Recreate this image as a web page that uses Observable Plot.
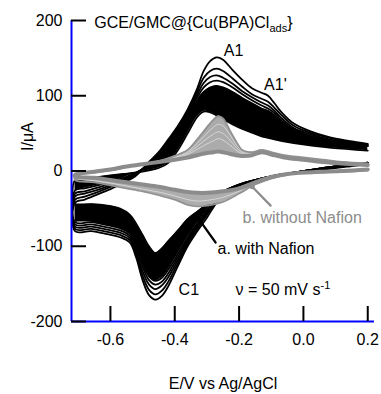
<!DOCTYPE html>
<html>
<head>
<meta charset="utf-8">
<script src="https://cdn.jsdelivr.net/npm/d3@7"></script>
<script src="https://cdn.jsdelivr.net/npm/@observablehq/plot@0.6"></script>
<style>
  html, body { margin: 0; padding: 0; background: #fff; }
  #chart { width: 381px; height: 394px; }
</style>
</head>
<body>
<div id="chart"></div>
<script>
// ---- axes / ticks ----
const xDomain = [-0.721, 0.221];
const yDomain = [-200, 200];
const xTicks = [-0.6, -0.4, -0.2, 0.0, 0.2];
const yTicks = [-200, -100, 0, 100, 200];

// ---- black (a. with Nafion): anodic sweep, E grid (V) ----
const EA = [-0.71,-0.68,-0.64,-0.60,-0.56,-0.52,-0.48,-0.45,-0.42,-0.39,-0.36,-0.33,-0.31,-0.29,-0.27,-0.25,-0.22,-0.19,-0.16,-0.13,-0.11,-0.09,-0.07,-0.03,0.02,0.08,0.14,0.20];
const blackA1 = [-42,-38,-31,-24,-16,-6,12,25,42,60,82,110,133,146,151,148,134,121,110,104,100,90,79,63,53,45,40,36];
const blackA2 = [-38,-34,-28,-21,-14,-5,11,23,40,58,80,106,124,133,136,133,123,112,102,96,92,84,75,60,51,44,39,35];
const blackA3 = [-34,-30,-25,-19,-12,-4,10,22,38,56,78,102,117,125,127,124,116,106,98,91,87,80,71,57,49,42,38,34];
const blackA4 = [-30,-27,-22,-17,-11,-3,9,21,37,55,76,98,111,118,120,118,111,102,94,87,83,77,68,55,47,41,37,33];
const blackA5 = [-26,-23,-19,-15,-9,-2,8,20,35,53,74,94,105,111,113,111,105,97,90,83,80,74,66,54,46,40,36,33];
const blackAIn = [-12,-10,-8,-6,-4,-2,1,4,11,28,50,72,79,78,74,69,62,56,51,46,44,42,40,37,34,31,29,27];

// ---- black: cathodic sweep ----
const EC = [0.20,0.14,0.08,0.02,-0.04,-0.10,-0.15,-0.20,-0.24,-0.27,-0.30,-0.33,-0.36,-0.39,-0.42,-0.44,-0.46,-0.48,-0.50,-0.52,-0.54,-0.57,-0.61,-0.66,-0.71];
const blackC1 = [11,8,5,1,-3,-7,-12,-19,-28,-42,-62,-80,-100,-126,-153,-166,-171,-165,-145,-115,-95,-88,-84,-80,-80];
const blackC2 = [11,8,5,1,-3,-7,-12,-19,-27,-40,-58,-77,-97,-122,-147,-159,-164,-158,-139,-111,-92,-85,-81,-77,-77];
const blackC3 = [11,8,5,1,-3,-7,-12,-19,-27,-39,-56,-74,-94,-118,-141,-152,-157,-151,-133,-107,-89,-82,-78,-74,-74];
const blackC4 = [10,7,4,1,-3,-7,-12,-18,-26,-38,-54,-72,-91,-114,-136,-147,-151,-145,-127,-103,-86,-79,-75,-71,-71];
const blackC5 = [10,7,4,1,-3,-7,-12,-18,-26,-37,-52,-70,-88,-110,-131,-142,-146,-140,-122,-99,-83,-76,-72,-68,-68];
const blackCIn = [9,6,3,0,-3,-7,-12,-18,-25,-33,-44,-54,-64,-79,-93,-103,-109,-100,-85,-70,-58,-50,-46,-44,-44];

// ---- gray (b. without Nafion): anodic ----
const GA = [-0.71,-0.65,-0.60,-0.55,-0.50,-0.45,-0.40,-0.36,-0.33,-0.30,-0.28,-0.265,-0.25,-0.23,-0.21,-0.19,-0.16,-0.13,-0.10,-0.06,0.00,0.06,0.12,0.20];
const grayA1 = [-6,-2,1,5,9,13,20,28,42,58,68,73,70,55,40,28,25,28,25,21,18,15,12,10];
const grayA2 = [-6,-2,1,5,9,13,19,26,37,50,58,62,60,49,36,27,24,27,24,20,17,14,12,10];
const grayA3 = [-6,-2,1,5,9,13,18,24,33,43,49,52,50,42,32,25,23,26,23,19,16,13,11,9];
const grayA4 = [-6,-2,1,5,9,13,17,22,29,36,40,43,41,35,28,23,22,25,22,18,15,12,10,9];
const grayABold = [-5,-1,2,6,9,12,15,18,21,24,25,26,25,23,21,20,21,25,22,18,15,12,10,8];

// ---- gray: cathodic ----
const GC = [0.20,0.12,0.05,0.00,-0.05,-0.10,-0.15,-0.20,-0.25,-0.30,-0.33,-0.36,-0.40,-0.45,-0.50,-0.55,-0.60,-0.65,-0.71];
const grayCOut = [1,-1,-2,-3,-5,-10,-18,-30,-41,-46,-47,-45,-38,-32,-27,-23,-19,-15,-12];
const grayCMid = [1,-1,-2,-3,-5,-9,-17,-27,-35,-39,-40,-38,-33,-28,-24,-20,-16,-13,-10];
const grayCBold = [2,0,-1,-2,-4,-8,-15,-23,-27,-29,-29,-28,-25,-21,-18,-15,-12,-9,-7];

// ---- annotations ----
const labelText = ["GCE/GMC@{Cu(BPA)Cl_{ads}}", "A1", "A1'", "C1", "ν = 50 mV s^{-1}", "a. with Nafion", "b. without Nafion"];
const labelE = [-0.650, -0.217, -0.087, -0.388, -0.211, -0.267, -0.189];
const labelI = [197, 160, 115, -157.5, -157.5, -104, -62];
const labelAnchor = ["start", "middle", "middle", "start", "start", "start", "start"];
const labelColor = ["#000", "#000", "#000", "#000", "#000", "#000", "#8c8c8c"];
const pointerAE = [-0.330, -0.273], pointerAI = [-61, -95];
const pointerBE = [-0.159, -0.102], pointerBI = [-21, -46];

// ---- build tables ----
const branch = (E, I, cycle) => E.map((e, i) => ({E: e, I: I[i], cycle}));
const loop = (cArr, aArr, cyc, Ec, Ea) => [...branch(Ec, cArr, cyc), ...branch(Ea, aArr, cyc)];
const blackLines = [
  ...loop(blackCIn, blackAIn, "in", EC, EA),
  ...loop(blackC5, blackA5, "c5", EC, EA),
  ...loop(blackC4, blackA4, "c4", EC, EA),
  ...loop(blackC3, blackA3, "c3", EC, EA),
  ...loop(blackC2, blackA2, "c2", EC, EA),
  ...loop(blackC1, blackA1, "c1", EC, EA)
];
const bandA = EA.map((e, i) => ({E: e, lo: blackAIn[i], hi: blackA5[i]}));
const bandC = EC.map((e, i) => ({E: e, lo: blackC5[i], hi: blackCIn[i]}));
const grayBandA = GA.map((e, i) => ({E: e, lo: grayABold[i], hi: grayA1[i]}));
const grayBandC = GC.map((e, i) => ({E: e, lo: grayCOut[i], hi: grayCBold[i]}));
const grayHair = [
  ...branch(GA, grayA2, "g2"), ...branch(GA, grayA3, "g3"), ...branch(GA, grayA4, "g4"),
  ...branch(GC, grayCMid, "cm")
];
const grayOuter = loop(grayCOut, grayA1, "g1", GC, GA);
const grayBold = loop(grayCBold, grayABold, "bold", GC, GA);
const pointers = [
  ...pointerAE.map((e, i) => ({E: e, I: pointerAI[i], p: "a"})),
  ...pointerBE.map((e, i) => ({E: e, I: pointerBI[i], p: "b"}))
];
const pointerStarts = [{E: pointerAE[0], I: pointerAI[0], p: "a"}, {E: pointerBE[0], I: pointerBI[0], p: "b"}];
const labels = labelText.map((t, i) => ({t, E: labelE[i], I: labelI[i], a: labelAnchor[i], c: labelColor[i]}));
const labelsStart = labels.filter(d => d.a === "start");
const labelsMiddle = labels.filter(d => d.a === "middle");

const curve = "catmull-rom";
const font = "'Liberation Sans', Arial, Helvetica, sans-serif";

const svg = Plot.plot({
  width: 381,
  height: 394,
  marginLeft: 71,
  marginRight: 7,
  marginTop: 20,
  marginBottom: 73,
  style: {fontFamily: font, fontSize: "16px", background: "#fff", color: "#000"},
  x: {domain: xDomain, label: null},
  y: {domain: yDomain, label: null},
  marks: [
    // black family
    Plot.areaY(bandA, {x: "E", y1: "lo", y2: "hi", fill: "#000", curve}),
    Plot.areaY(bandC, {x: "E", y1: "lo", y2: "hi", fill: "#000", curve}),
    Plot.line(blackLines, {x: "E", y: "I", z: "cycle", stroke: "#000", strokeWidth: 1.8, curve}),
    // gray family
    Plot.areaY(grayBandA, {x: "E", y1: "lo", y2: "hi", fill: "#ababab", curve}),
    Plot.areaY(grayBandC, {x: "E", y1: "lo", y2: "hi", fill: "#adadad", curve}),
    Plot.line(grayHair, {x: "E", y: "I", z: "cycle", stroke: "#e6e6e6", strokeWidth: 0.7, curve}),
    Plot.line(grayOuter, {x: "E", y: "I", stroke: "#929292", strokeWidth: 1.8, curve}),
    Plot.line(grayBold, {x: "E", y: "I", stroke: "#8c8c8c", strokeWidth: 4, curve}),
    // pointers
    Plot.line(pointers, {x: "E", y: "I", z: "p", stroke: d => d.p === "a" ? "#000" : "#8c8c8c", strokeWidth: 2.2}),
    Plot.dot(pointerStarts, {x: "E", y: "I", r: 2.5, fill: d => d.p === "a" ? "#000" : "#8c8c8c", stroke: null}),
    // annotations
    Plot.text(labelsStart, {x: "E", y: "I", text: "t", textAnchor: "start", fill: d => d.c, fontSize: 16, lineAnchor: "middle"}),
    Plot.text(labelsMiddle, {x: "E", y: "I", text: "t", textAnchor: "middle", fill: d => d.c, fontSize: 16, lineAnchor: "middle"}),
    // axis frame lines (blue)
    Plot.ruleX([xDomain[0]], {stroke: "#0000ff", strokeWidth: 2}),
    Plot.ruleY([yDomain[0]], {stroke: "#0000ff", strokeWidth: 2}),
    // inward ticks
    Plot.tickX(xTicks, {x: d => d, insetTop: 286, stroke: "#000", strokeWidth: 2}),
    Plot.tickY(yTicks, {y: d => d, insetRight: 288, stroke: "#000", strokeWidth: 2}),
    // tick labels
    Plot.axisX(xTicks, {tickSize: 0, tickPadding: 12, tickFormat: d => d.toFixed(1), fontSize: 16, label: null}),
    Plot.axisY(yTicks, {tickSize: 0, tickPadding: 9, tickFormat: d => String(d), fontSize: 16, label: null}),
    // axis titles
    Plot.text(["E/V vs Ag/AgCl"], {frameAnchor: "bottom", dy: 62, fontSize: 16, lineAnchor: "middle"}),
    Plot.text(["I/μA"], {frameAnchor: "left", dx: -44, dy: -20, rotate: -90, fontSize: 16, lineAnchor: "middle"})
  ]
});

// sub/superscripts: "_{...}" and "^{...}"
const ns = "http://www.w3.org/2000/svg";
svg.querySelectorAll("text").forEach(t => {
  const s = t.textContent;
  const re = /(_|\^)\{([^}]*)\}/g;
  if (!/(_|\^)\{/.test(s)) return;
  while (t.firstChild) t.removeChild(t.firstChild);
  let last = 0, cur = 0, m;
  const add = (txt, want, small) => {
    if (!txt) return;
    const ts = document.createElementNS(ns, "tspan");
    ts.textContent = txt;
    if (want !== cur) { ts.setAttribute("dy", want - cur); cur = want; }
    if (small) ts.setAttribute("font-size", "11px");
    t.appendChild(ts);
  };
  while ((m = re.exec(s))) {
    add(s.slice(last, m.index), 0, false);
    add(m[2], m[1] === "_" ? 4 : -6, true);
    last = m.index + m[0].length;
  }
  add(s.slice(last), 0, false);
});

document.getElementById("chart").appendChild(svg);
</script>
</body>
</html>
